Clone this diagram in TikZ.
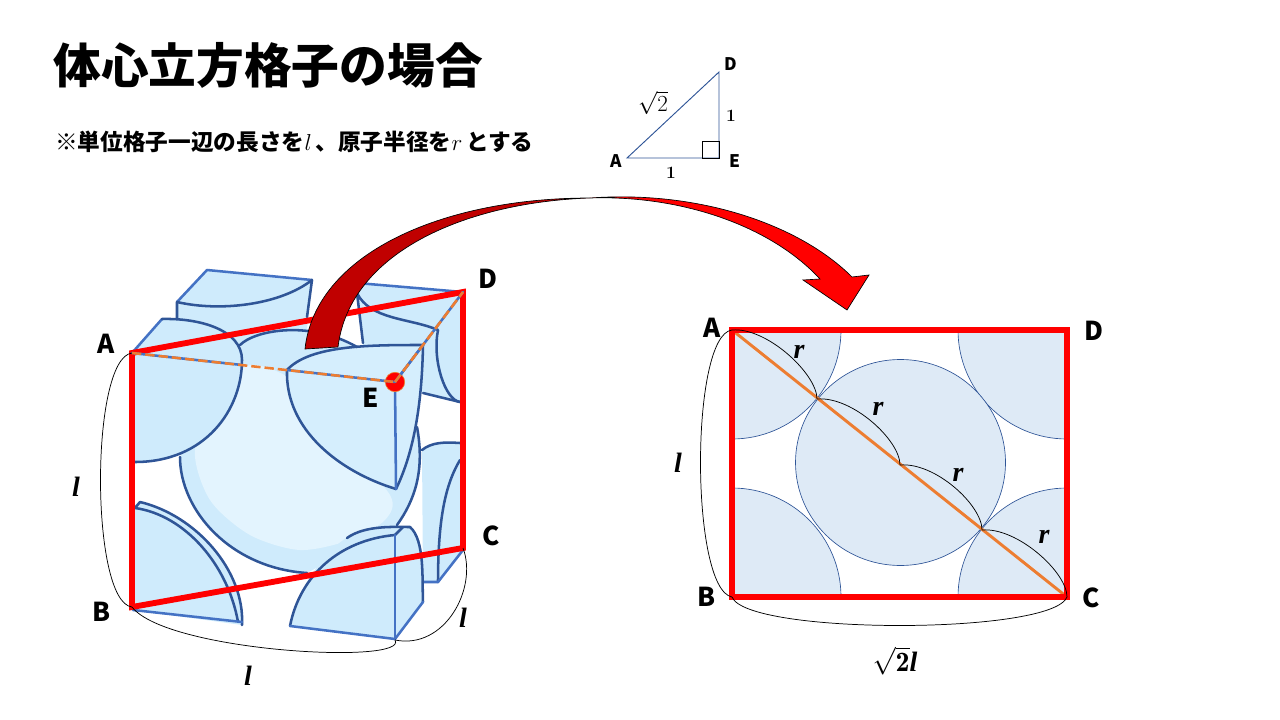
\documentclass[tikz,border=0pt]{standalone}
\usepackage{amsmath}
\usepackage{fontspec}
\newfontfamily\cjkfont{Noto Sans CJK JP}
\newfontfamily\symbolfont{Liberation Serif}
\definecolor{cubepale}{HTML}{CFEBFC}
\definecolor{cubeinner}{HTML}{E3F4FE}
\definecolor{atomblue}{HTML}{2F5597}
\definecolor{edgeblue}{HTML}{4472C4}
\definecolor{flatblue}{HTML}{DEEAF6}
\definecolor{lineorange}{HTML}{ED7D31}
\definecolor{darkred}{HTML}{C00000}
\tikzset{
    atomline/.style={draw=atomblue,line width=1.9pt,line join=round,line cap=round},
    edgeline/.style={draw=edgeblue,line width=1.9pt,line join=round,line cap=round},
    flatatom/.style={fill=flatblue,draw=atomblue,line width=0.5pt},
    redline/.style={draw=red,line width=4.4pt,line join=miter},
    orangedash/.style={draw=lineorange,line width=1.9pt,dash pattern=on 7pt off 3pt},
    spanline/.style={draw=black,line width=0.55pt},
    biglabel/.style={font=\cjkfont\bfseries\fontsize{19.5}{22}\selectfont,inner sep=0},
    smalllabel/.style={font=\cjkfont\bfseries\fontsize{13}{15}\selectfont,inner sep=0},
    mathlabel/.style={font=\symbolfont\bfseries\itshape\fontsize{21}{24}\selectfont,inner sep=0}
}
\begin{document}
\begin{tikzpicture}[x=0.75pt,y=-0.75pt]
    \pgfmathsetmacro{\pagewidth}{1280}
    \pgfmathsetmacro{\pageheight}{720}
    \providecommand{\titlefontsize}{\fontsize{35.8}{40}\selectfont}
    \providecommand{\notefontsize}{\fontsize{17}{20}\selectfont}
    \useasboundingbox (0,0) rectangle (\pagewidth,\pageheight);
    \node[anchor=west,inner sep=0,font=\cjkfont\bfseries\titlefontsize](title) at (53,65){体心立方格子の場合};
    \node[anchor=west,inner sep=0,font=\cjkfont\bfseries\notefontsize](note) at (55,142){※単位格子一辺の長さを$l$\,、原子半径を$r$\,とする};
    % small triangle
    \coordinate (tA) at (627,158);
    \coordinate (tD) at (719,72);
    \coordinate (tE) at (719,158);
    \draw[atomblue,line width=0.7pt] (tA) -- (tD) -- (tE) -- cycle;
    \draw[black,line width=0.7pt] (702,141) rectangle (tE);
    \node[smalllabel](tlabelA) at (616,161){A};
    \node[smalllabel](tlabelD) at (731,64){D};
    \node[smalllabel](tlabelE) at (735,161){E};
    \node[font=\fontsize{13}{15}\selectfont\bfseries,inner sep=0](tone) at (731,116){1};
    \node[font=\fontsize{13}{15}\selectfont\bfseries,inner sep=0](ttwo) at (671,173){1};
    \node[font=\fontsize{16}{18}\selectfont,inner sep=0](troot) at (653,103){$\sqrt{2}$};
    % cube, pale parts
    \fill[cubepale] (177,318) -- (177,302) -- (207,270) -- (312,280) -- (307,330) -- (240,345) -- cycle;
    \fill[cubepale] (357,283) -- (463,292) -- (463,402) -- (423,393) -- (363,345) -- cycle;
    \fill[cubepale] (180,457) .. controls (180,510) and (230,568) .. (307,573) -- (397,525) .. controls (415,500) and (425,470) .. (417,427) -- (357,347) .. controls (310,320) and (255,330) .. (240,345) -- cycle;
    \fill[cubeinner] plot[smooth cycle] coordinates {(250,365) (300,385) (340,440) (390,495) (385,520) (350,540) (300,550) (250,535) (210,500) (195,450) (220,400)};
    \fill[cubepale] (132,353) -- (162,319) .. controls (200,318) and (242,330) .. (242,360) .. controls (242,410) and (205,462) .. (135,462) -- cycle;
    \fill[cubepale!70!cubeinner] (287,370) .. controls (310,345) and (370,345) .. (423,345) .. controls (422,400) and (415,450) .. (396,489) .. controls (340,472) and (285,430) .. (287,370) -- cycle;
    \fill[cubepale] (422,450) .. controls (432,442) and (445,442) .. (460,443) -- (463,550) -- (438,582) -- (423,582) -- cycle;
    \fill[cubepale] (135,505) -- (140,502) .. controls (195,515) and (245,570) .. (242,625) -- (133,610) -- cycle;
    \fill[cubepale] (290,626) .. controls (300,575) and (340,540) .. (347,538) .. controls (365,525) and (395,527) .. (410,527) .. controls (425,540) and (422,580) .. (423,602) -- (395,639) -- cycle;
    % cube, lines
    \draw[edgeline] (177,302) -- (207,270) -- (312,280);
    \draw[atomline] (177,318) -- (177,302) .. controls (220,312) and (280,305) .. (312,280) -- (307,317);
    \draw[edgeline] (132,353) -- (162,319);
    \draw[atomline] (162,319) .. controls (200,318) and (242,330) .. (242,360) .. controls (242,410) and (205,462) .. (135,462);
    \draw[atomline] (240,345) .. controls (255,330) and (310,320) .. (357,347);
    \draw[atomline] (180,457) .. controls (180,510) and (230,568) .. (307,573);
    \draw[atomline] (397,525) .. controls (415,500) and (425,470) .. (417,427);
    \draw[edgeline] (357,283) -- (463,292);
    \draw[atomline] (363,343) -- (357,293) .. controls (370,320) and (410,318) .. (438,330) .. controls (432,360) and (445,400) .. (460,402);
    \draw[atomline] (423,393) -- (460,402);
    \draw[atomline] (287,370) .. controls (310,345) and (370,345) .. (423,345) .. controls (422,400) and (415,450) .. (396,489);
    \draw[atomline] (287,370) .. controls (285,430) and (340,472) .. (396,489);
    \draw[edgeline] (395,382) -- (396,489);
    \draw[edgeline] (423,345) -- (395,382);
    \draw[atomline] (422,450) .. controls (432,442) and (445,442) .. (460,443);
    \draw[atomline] (460,460) .. controls (445,485) and (438,520) .. (438,582);
    \draw[edgeline] (423,582) -- (438,582) -- (463,550);
    \draw[atomline] (135,508) .. controls (185,515) and (228,565) .. (238,622);
    \draw[atomline] (135,508) -- (140,502) .. controls (195,515) and (245,570) .. (242,625);
    \draw[edgeline] (133,610) -- (242,622);
    \draw[atomline] (290,626) .. controls (300,575) and (340,540) .. (395,535);
    \draw[atomline] (347,538) .. controls (365,525) and (395,527) .. (410,527) .. controls (425,540) and (422,580) .. (423,602);
    \draw[atomline] (395,535) -- (403,527);
    \draw[edgeline] (290,626) -- (395,639) -- (423,602);
    \draw[edgeline] (395,535) -- (395,639);
    % cube, red section
    \coordinate (cA) at (132,353);
    \coordinate (cB) at (132,607);
    \coordinate (cC) at (463,548);
    \coordinate (cD) at (463,292);
    \coordinate (cF) at (395,640);
    \coordinate (cP) at (242,365);
    \coordinate (cQ) at (287,370);
    \draw[redline] (cA) -- (cB) -- (cC) -- (cD) -- cycle;
    \node[circle,fill=red,draw=lineorange,line width=0.5pt,minimum size=14.5pt,inner sep=0](cE) at (395,382){};
    \draw[edgeline] (cA) -- (cP);
    \draw[edgeline] (cQ) -- (cE.center) -- (cD);
    \draw[orangedash] (cA) -- (cE.center);
    \draw[orangedash] (cE.center) -- (cD);
    \draw[spanline] (cA) .. controls +(-42,5) and +(-42,-5) .. (cB);
    \draw[spanline] (cB) .. controls +(35,45) and +(15,25) .. (cF);
    \draw[spanline] (cF) .. controls +(50,10) and +(15,40) .. (cC);
    \node[biglabel](clabelA) at (106,344){A};
    \node[biglabel](clabelB) at (102,612){B};
    \node[biglabel](clabelC) at (491,536){C};
    \node[biglabel](clabelD) at (488,279){D};
    \node[biglabel](clabelE) at (371,398){E};
    \node[mathlabel](cleft) at (76,487){l};
    \node[mathlabel](cright) at (463,618){l};
    \node[mathlabel](cbottom) at (248,676){l};
    % right panel
    \coordinate (rA) at (732,330);
    \coordinate (rB) at (732,597);
    \coordinate (rC) at (1067,597);
    \coordinate (rD) at (1067,330);
    \coordinate (rM) at (817,399);
    \coordinate (rO) at (900,465);
    \coordinate (rN) at (982,530);
    \begin{scope}
        \clip (rA) rectangle (rC);
        \draw[flatatom] (rA) circle (109);
        \draw[flatatom] (rB) circle (109);
        \draw[flatatom] (rC) circle (109);
        \draw[flatatom] (rD) circle (109);
    \end{scope}
    \draw[flatatom] (900.5,462.5) ellipse (105 and 103);
    \draw[lineorange,line width=2.2pt] (rA) -- (rC);
    \draw[draw=red,line width=3.8pt] (rA) rectangle (rC);
    \draw[spanline] (rA) .. controls +(35,-3) and +(0,-25) .. (rM);
    \draw[spanline] (rM) .. controls +(35,-3) and +(0,-25) .. (rO);
    \draw[spanline] (rO) .. controls +(35,-3) and +(0,-25) .. (rN);
    \draw[spanline] (rN) .. controls +(35,-3) and +(0,-25) .. (rC);
    \draw[spanline] (rA) .. controls +(-42,5) and +(-42,-8) .. (rB);
    \draw[spanline] (rB) .. controls +(15,38) and +(-15,38) .. (rC);
    \node[biglabel](rlabelA) at (712,328){A};
    \node[biglabel](rlabelB) at (707,597){B};
    \node[biglabel](rlabelC) at (1091,598){C};
    \node[biglabel](rlabelD) at (1094,331){D};
    \node[mathlabel](rone) at (799,352){r};
    \node[mathlabel](rtwo) at (878,409){r};
    \node[mathlabel](rthree) at (958,475){r};
    \node[mathlabel](rfour) at (1044,537){r};
    \node[mathlabel](rleft) at (678,463){l};
    \node[mathlabel](rbottom) at (895,661){$\sqrt{\mathbf{2}}$l};
    % big arrow
    \draw[black,line width=0.5pt,fill=red] (590,198) .. controls (700,190) and (800,225) .. (852,277) -- (869,275) -- (847,310) -- (803,280) -- (820,279) .. controls (770,225) and (680,195) .. (590,198) -- cycle;
    \draw[black,line width=0.5pt,fill=darkred] (305,349) .. controls (315,255) and (440,198) .. (590,198) .. controls (470,202) and (350,250) .. (338,347) -- cycle;
\end{tikzpicture}
\end{document}
